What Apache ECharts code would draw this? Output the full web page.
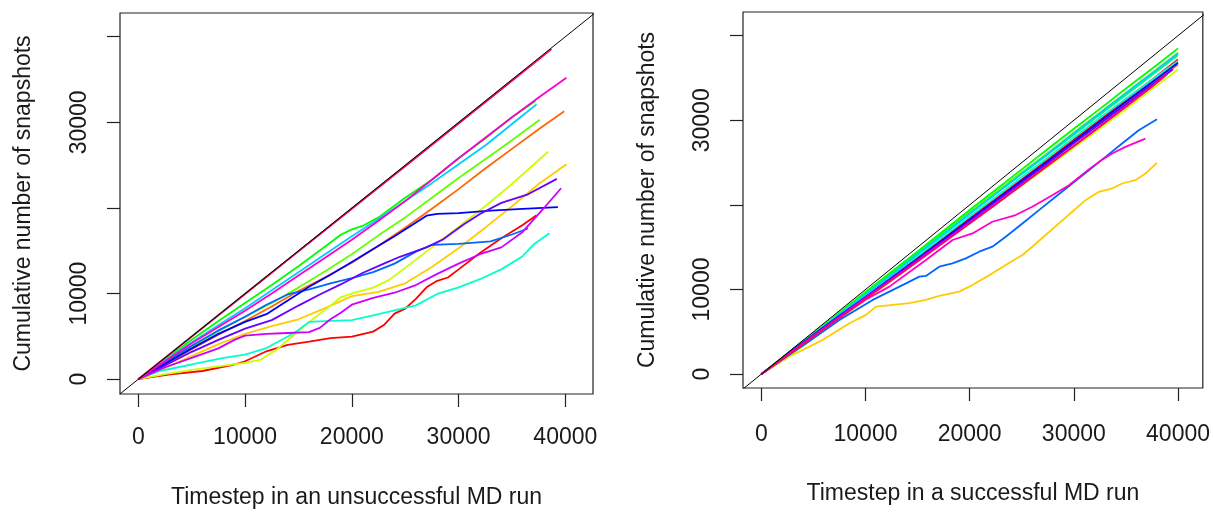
<!DOCTYPE html>
<html><head><meta charset="utf-8">
<script src="https://cdn.jsdelivr.net/npm/echarts@6/dist/echarts.min.js"></script>
<style>html,body{margin:0;padding:0;background:#fff}#c{width:1213px;height:514px}</style>
</head><body><div id="c"></div>
<script>
// ---------- tick labels / titles ----------
const xTickValues = [0, 10000, 20000, 30000, 40000];
const yTickValues = [0, 10000, 20000, 30000, 40000];
const yLabelValues = [0, 10000, 30000];
const leftXTitle = 'Timestep in an unsuccessful MD run';
const rightXTitle = 'Timestep in a successful MD run';
const yTitle = 'Cumulative number of snapshots';

// ---------- unsuccessful MD runs : [timestep, cumulative snapshots] ----------
const u01 = [[0,0],[3000,575],[6000,960],[9000,1720],[10000,2100],[12000,3260],[14000,4020],[16000,4400],[18000,4790],[20000,4980],[22000,5560],[23000,6320],[24000,7660],[25000,8240],[26000,9390],[27000,10730],[28000,11490],[29000,11880],[30000,12830],[32000,14750],[34000,16470],[36000,18010],[37300,19150]];
const u02 = [[0,0],[2500,1700],[5000,3500],[7500,5200],[10000,6800],[12500,8500],[15000,10300],[17500,11900],[20000,13600],[22500,15600],[25000,17700],[27500,19900],[30000,22200],[32500,24600],[35000,26900],[37500,29200],[39900,31300]];
const u03 = [[0,0],[2500,1300],[5000,2700],[7500,4100],[10000,5300],[12500,6200],[15000,7000],[17500,8300],[20000,9700],[22500,10200],[25000,11200],[27500,13100],[30000,15300],[32500,17700],[35000,20200],[37500,22800],[40100,25100]];
const u04 = [[0,0],[2500,600],[5000,1100],[7500,1500],[10000,1900],[11500,2300],[13000,3500],[14500,5100],[16000,6700],[17500,8100],[19000,9600],[20500,10200],[22000,10700],[23500,11600],[25000,13000],[27500,15400],[30000,17800],[32500,20200],[35000,22800],[38400,26600]];
const u05 = [[0,0],[2500,1900],[5000,3800],[7500,5600],[10000,7300],[12500,8900],[15000,10700],[17500,12600],[20000,14600],[22500,16800],[25000,18900],[27500,21200],[30000,23500],[32500,25700],[35000,27900],[37600,30300]];
const u06 = [[0,0],[2500,2300],[5000,4600],[7500,6800],[10000,8900],[12500,11000],[15000,13200],[17500,15500],[19000,16900],[20000,17500],[21000,17900],[22500,18900],[25000,21200],[27500,23300],[30000,25800],[32500,28100],[35000,30600],[37200,32500]];
const u07 = [[0,0],[5000,4990],[10000,9980],[15000,14960],[20000,19950],[25000,24940],[30000,29920],[35500,35400]];
const u08 = [[0,0],[2000,960],[5000,1720],[8000,2490],[10000,2870],[12000,3640],[14000,4980],[15000,5750],[16000,6700],[18000,6820],[20000,6900],[22000,7470],[24000,8050],[26000,8620],[28000,9960],[30000,10730],[32000,11680],[34000,12830],[36000,14370],[37000,15700],[38500,17050]];
const u09 = [[0,0],[2500,2200],[5000,4300],[7500,6300],[10000,8300],[12500,10400],[15000,12500],[17500,14600],[20000,16700],[22500,18700],[25000,20800],[27500,22900],[30000,25100],[32500,27300],[35000,29800],[37300,32100]];
const u10 = [[0,0],[2500,2000],[5000,3900],[7500,5700],[10000,7300],[12000,8700],[14000,9900],[16000,10500],[18000,11200],[20000,11800],[22000,12500],[24000,13500],[26000,14900],[27500,15700],[30000,15800],[33000,16100],[35000,16900],[36500,17600]];
const u11 = [[0,0],[2500,1800],[5000,3600],[7500,5300],[10000,6700],[12000,7600],[14000,9200],[16000,10800],[18000,12200],[20000,13700],[22000,15200],[24000,16700],[25500,17900],[27000,19100],[28000,19300],[30000,19400],[33000,19700],[36000,19900],[39300,20100]];
const u12 = [[0,0],[2500,1600],[5000,3200],[7500,4600],[10000,5900],[12500,6900],[15000,8600],[17000,9900],[19000,11100],[21000,12400],[23000,13500],[24500,14300],[27000,15400],[28500,16300],[30500,18100],[32000,19300],[34000,20600],[36500,21600],[39200,23400]];
const u13 = [[0,0],[2500,1400],[5000,2500],[7500,3600],[9000,4600],[10000,5100],[12000,5300],[14000,5400],[16000,5500],[17000,6000],[18000,7000],[19000,7800],[20000,8700],[22000,9500],[24000,10100],[26000,11000],[28000,12300],[30000,13500],[32000,14600],[34000,15400],[36000,17200],[38000,20000],[39600,22300]];
const u14 = [[0,0],[2500,2100],[5000,4200],[7500,6100],[10000,8000],[12500,10000],[15000,12100],[17500,14200],[20000,16300],[22500,18500],[25000,20800],[27500,23300],[30000,25800],[32500,28200],[35000,30600],[37500,32900],[40100,35200]];
const u15 = [[0,0],[5000,4980],[10000,9950],[15000,14930],[20000,19900],[25000,24880],[30000,29870],[35000,34850],[38700,38550]];

// ---------- successful MD runs ----------
const s01 = [[0,0],[2500,2300],[5000,4600],[7500,6900],[10000,9200],[12500,11450],[15000,13750],[17500,16050],[20000,18400],[22500,20700],[25000,23000],[27500,25350],[30000,27700],[32500,30050],[35000,32450],[37500,34800],[40000,37200]];
const s02 = [[0,0],[2500,2250],[5000,4500],[7500,6800],[10000,9000],[12500,11300],[15000,13600],[17500,15850],[20000,18100],[22500,20400],[25000,22700],[27500,24950],[30000,27300],[32500,29600],[35000,31950],[37500,34250],[40000,36600]];
const s03 = [[0,0],[2710,2080],[5900,4050],[8460,6020],[10050,7000],[11010,7980],[12610,8180],[14200,8380],[15800,8770],[17080,9240],[18990,9750],[20270,10540],[22180,11910],[23460,12900],[25060,14080],[26010,15060],[27290,16440],[28570,17810],[29850,19190],[31120,20560],[32400,21550],[33680,21940],[34630,22530],[35910,22920],[36870,23710],[37980,24970]];
const s04 = [[0,0],[2500,2000],[5000,4200],[7500,6500],[10000,8800],[12500,11050],[15000,13350],[17500,15600],[20000,17850],[22500,20100],[25000,22300],[27500,24500],[30000,26750],[32500,29000],[35000,31300],[37500,33700],[40000,36000]];
const s05 = [[0,0],[2500,2400],[5000,4800],[7500,7200],[10000,9550],[12500,11950],[15000,14350],[17500,16750],[20000,19150],[22500,21500],[25000,23850],[27500,26150],[30000,28550],[32500,30900],[35000,33250],[37500,35600],[40000,38000]];
const s06 = [[0,0],[2500,2450],[5000,4850],[7500,7300],[10000,9700],[12500,12100],[15000,14500],[17500,16950],[20000,19400],[22500,21800],[25000,24200],[27500,26600],[30000,29000],[32500,31350],[35000,33750],[37500,36100],[40000,38500]];
const s07 = [[0,0],[2500,2400],[5000,4750],[7500,7150],[10000,9500],[12500,11850],[15000,14250],[17500,16600],[20000,19000],[22500,21300],[25000,23650],[27500,25950],[30000,28300],[32500,30650],[35000,33000],[37500,35350],[40000,37700]];
const s08 = [[0,0],[2500,2300],[5000,4650],[7500,6950],[10000,9300],[12500,11650],[15000,13950],[17500,16300],[20000,18650],[22500,20950],[25000,23300],[27500,25600],[30000,27950],[32500,30300],[35000,32550],[37500,34800],[40000,37000]];
const s09 = [[0,0],[2500,2350],[5000,4700],[7500,7050],[10000,9400],[12500,11750],[15000,14150],[17500,16550],[20000,18950],[22500,21300],[25000,23700],[27500,26050],[30000,28450],[32500,30850],[35000,33200],[37500,35550],[40000,37900]];
const s10 = [[0,0],[4310,3660],[7500,6410],[10690,8770],[12290,9750],[13890,10730],[15160,11520],[15800,11600],[17080,12700],[18350,13090],[19630,13680],[20910,14470],[22180,15060],[23460,16240],[25060,17810],[26650,19380],[28250,20960],[29850,22530],[31440,24100],[33040,25680],[34630,27250],[36230,28820],[37980,30120]];
const s11 = [[0,0],[2500,2350],[5000,4650],[7500,6900],[10000,9100],[12500,11350],[15000,13650],[17500,15950],[20000,18250],[22500,20550],[25000,22850],[27500,25150],[30000,27500],[32500,29850],[35000,32200],[37500,34500],[40000,36800]];
const s12 = [[0,0],[2500,2300],[5000,4600],[7500,6850],[10000,9100],[12500,11300],[15000,13550],[17500,15800],[20000,18100],[22500,20400],[25000,22650],[27500,24950],[30000,27300],[32500,29600],[35000,31900],[37500,34200],[39500,36000]];
const s13 = [[0,0],[2500,2250],[5000,4500],[7500,6750],[10000,9000],[12500,11200],[15000,13400],[17500,15650],[20000,17900],[22500,20150],[25000,22400],[27500,24700],[30000,27000],[32500,29300],[35000,31650],[37500,34000],[39000,35500]];
const s14 = [[0,0],[5000,4500],[10000,8800],[12290,10340],[15800,13490],[18350,15850],[20270,16630],[22180,18010],[24420,18800],[26010,19780],[27930,21150],[29530,22330],[31440,24200],[32720,25350],[33680,26070],[34950,26860],[36870,27840]];
const s15 = [[0,0],[2500,2200],[5000,4450],[7500,6650],[10000,8900],[12500,11100],[15000,13300],[17500,15550],[20000,17800],[22500,20050],[25000,22350],[27500,24650],[30000,26950],[32500,29250],[35000,31600],[37500,34000],[38700,35200]];

// ---------- styling ----------
const palette = ['#FF0000','#FF6600','#FFCC00','#CCFF00','#66FF00','#00FF00','#00FF66','#00FFCC','#00CCFF','#0066FF','#0000FF','#6600FF','#CC00FF','#FF00CC','#FF0066'];
const leftRuns = [u01,u02,u03,u04,u05,u06,u07,u08,u09,u10,u11,u12,u13,u14,u15];
const rightRuns = [s01,s02,s03,s04,s05,s06,s07,s08,s09,s10,s11,s12,s13,s14,s15];
const FONT = '"Liberation Sans", Arial, sans-serif';
const TXT = '#1a1a1a';

const ranges = [
  {x:[-1715, 42590], y:[-1726, 42770]},
  {x:[-1760, 42380], y:[-1640, 42800]}
];
const layout = [
  {xLabelMargin:32, xNameGap:92, yLabelMargin:29, yNameGap:85},
  {xLabelMargin:35, xNameGap:94, yLabelMargin:29, yNameGap:84}
];
const plain = v => String(Math.round(v));

function xAxisFor(i, title){
  return {
    gridIndex:i, type:'value', min:ranges[i].x[0], max:ranges[i].x[1],
    splitLine:{show:false}, axisLine:{show:false, onZero:false},
    axisTick:{show:true, inside:false, customValues:xTickValues, length:13, lineStyle:{color:'#222', width:1.2}},
    axisLabel:{customValues:xTickValues, formatter:plain, fontSize:23, margin:layout[i].xLabelMargin, color:TXT, fontFamily:FONT},
    name:title, nameLocation:'middle', nameGap:layout[i].xNameGap,
    nameTextStyle:{fontSize:23, color:TXT, fontFamily:FONT}
  };
}
function yAxisFor(i){
  return {
    gridIndex:i, type:'value', min:ranges[i].y[0], max:ranges[i].y[1],
    splitLine:{show:false}, axisLine:{show:false, onZero:false},
    axisTick:{show:true, inside:false, customValues:yTickValues, length:13, lineStyle:{color:'#222', width:1.2}},
    axisLabel:{customValues:yLabelValues, formatter:plain, fontSize:23, margin:layout[i].yLabelMargin, rotate:90, color:TXT, fontFamily:FONT},
    name:yTitle, nameLocation:'middle', nameGap:layout[i].yNameGap,
    nameTextStyle:{fontSize:23, color:TXT, fontFamily:FONT}
  };
}

const series = [];
function addRuns(runs, idx){
  runs.forEach((d, k) => {
    series.push({
      type:'line', xAxisIndex:idx, yAxisIndex:idx, data:d,
      showSymbol:false, symbol:'none', silent:true, z:2+k*0.01,
      lineStyle:{color:palette[k], width:1.8},
      clip:true
    });
  });
  const r = ranges[idx];
  const lo = Math.min(r.x[0], r.y[0]), hi = Math.max(r.x[1], r.y[1]);
  series.push({
    type:'line', xAxisIndex:idx, yAxisIndex:idx, data:[[lo,lo],[hi,hi]],
    showSymbol:false, symbol:'none', silent:true, z:3, clip:true,
    lineStyle:{color:'#000', width:1}
  });
}
addRuns(leftRuns, 0);
addRuns(rightRuns, 1);

const chart = echarts.init(document.getElementById('c'), null, {renderer:'canvas'});
chart.setOption({
  animation:false,
  backgroundColor:'#fff',
  grid:[
    {left:120, top:13, width:473, height:387, show:true, borderColor:'#222', borderWidth:1.2, containLabel:false},
    {left:743, top:12, width:462, height:376, show:true, borderColor:'#222', borderWidth:1.2, containLabel:false}
  ],
  xAxis:[xAxisFor(0, leftXTitle), xAxisFor(1, rightXTitle)],
  yAxis:[yAxisFor(0), yAxisFor(1)],
  series:series
});
</script></body></html>
